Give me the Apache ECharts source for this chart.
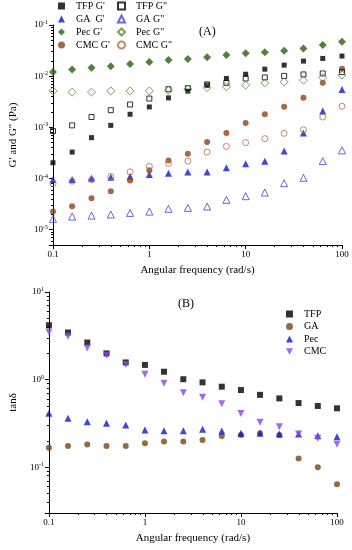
<!DOCTYPE html>
<html><head><meta charset="utf-8">
<script src="https://cdn.jsdelivr.net/npm/echarts@6/dist/echarts.min.js"></script>
<style>html,body{margin:0;padding:0;background:#fff}#c{width:352px;height:550px}</style>
</head><body><div id="c"></div>
<script>
// Angular frequency (rad/s)
const freq = [0.1, 0.158, 0.251, 0.398, 0.631, 1, 1.58, 2.51, 3.98, 6.31, 10, 15.8, 25.1, 39.8, 63.1, 100];

// Panel A: G' and G'' (Pa)
const tfpG1 = [2.03e-4, 3.28e-4, 6.28e-4, 1.09e-3, 1.80e-3, 2.50e-3, 3.76e-3, 5.08e-3, 6.67e-3, 9.02e-3, 0.0109, 0.0137, 0.0164, 0.0197, 0.0222, 0.0247];
const tfpG2 = [8.45e-4, 1.09e-3, 1.59e-3, 2.16e-3, 2.79e-3, 3.65e-3, 5.56e-3, 5.82e-3, 6.9e-3, 7.40e-3, 9.0e-3, 9.44e-3, 0.0101, 0.0108, 0.0113, 0.0120];
const gaG1 = [9.55e-5, 9.55e-5, 1.01e-4, 1.06e-4, 1.11e-4, 1.20e-4, 1.27e-4, 1.33e-4, 1.33e-4, 1.62e-4, 1.94e-4, 2.18e-4, 3.43e-4, 7.73e-4, 2.09e-3, 5.48e-3];
const gaG2 = [1.62e-5, 1.80e-5, 1.88e-5, 1.97e-5, 2.12e-5, 2.25e-5, 2.55e-5, 2.66e-5, 2.82e-5, 3.82e-5, 4.50e-5, 5.31e-5, 8.09e-5, 1.03e-4, 2.18e-4, 3.54e-4];
const pecG1 = [0.0121, 0.0135, 0.01455, 0.0157, 0.0172, 0.019, 0.0206, 0.0216, 0.0233, 0.0258, 0.0279, 0.0292, 0.0313, 0.0349, 0.0406, 0.0471];
const pecG2 = [5.15e-3, 4.85e-3, 4.85e-3, 5.15e-3, 5.15e-3, 5.15e-3, 5.3e-3, 5.56e-3, 5.96e-3, 6.18e-3, 6.67e-3, 7.4e-3, 7.74e-3, 8.35e-3, 9.4e-3, 0.0105];
const cmcG1 = [2.25e-5, 2.86e-5, 4.11e-5, 5.64e-5, 9.14e-5, 1.44e-4, 2.25e-4, 3.05e-4, 5.15e-4, 7.73e-4, 1.21e-3, 1.80e-3, 2.52e-3, 3.79e-3, 7.46e-3, 0.0140];
const cmcG2 = [7.87e-5, 8.85e-5, 9.43e-5, 1.09e-4, 1.35e-4, 1.72e-4, 1.97e-4, 2.18e-4, 3.28e-4, 4.24e-4, 5.01e-4, 6.0e-4, 7.62e-4, 8.93e-4, 1.59e-3, 2.58e-3];

// Panel B: tan delta
const tfpTan = [4.18, 3.45, 2.65, 1.99, 1.57, 1.47, 1.23, 1.01, 0.93, 0.83, 0.76, 0.67, 0.61, 0.54, 0.50, 0.47];
const gaTan  = [0.167, 0.175, 0.181, 0.175, 0.175, 0.188, 0.196, 0.196, 0.205, 0.227, 0.233, 0.244, 0.233, 0.126, 0.100, 0.064];
const pecTan = [0.412, 0.361, 0.331, 0.317, 0.303, 0.266, 0.261, 0.261, 0.271, 0.259, 0.244, 0.244, 0.239, 0.239, 0.229, 0.223];
const cmcTan = [3.50, 3.13, 2.30, 1.90, 1.49, 1.15, 0.91, 0.71, 0.63, 0.53, 0.41, 0.326, 0.29, 0.239, 0.214, 0.183];

const namesA1 = ["TFP G'", "GA  G'", "Pec G'", "CMC G'"];
const namesA2 = ['TFP G"', 'GA G"', 'Pec G"', 'CMC G"'];
const namesB = ['TFP', 'GA', 'Pec', 'CMC'];
const xTitle = 'Angular frequency (rad/s)';

const FONT = 'Liberation Serif';
const downTri = 'path://M0,0 L10,0 L5,9 Z';
const pts = arr => freq.map((f, i) => [f, arr[i]]);

function powLabel(v) {
  const l = Math.log10(v), r = Math.round(l);
  if (Math.abs(l - r) > 0.01) return '';
  return '10{s|' + r + '}';
}
function xLabel(v) {
  return v < 1 ? v.toFixed(1) : String(Math.round(v));
}

function filled(name, arr, sym, size, color, xi) {
  return {name, type: 'scatter', xAxisIndex: xi, yAxisIndex: xi, data: pts(arr),
    symbol: sym, symbolSize: size, itemStyle: {color}, z: 3};
}
function open(name, arr, sym, size, color, xi) {
  return {name, type: 'scatter', xAxisIndex: xi, yAxisIndex: xi, data: pts(arr),
    symbol: sym, symbolSize: size,
    itemStyle: {color: 'rgba(0,0,0,0)', borderColor: color, borderWidth: 1}, z: 4};
}

const axisCommon = {
  axisLine: {show: true, lineStyle: {color: '#000', width: 1}},
  axisTick: {show: true, length: 4, lineStyle: {color: '#000'}},
  minorTick: {show: true, splitNumber: 9, length: 2, lineStyle: {color: '#000'}},
  splitLine: {show: false},
  nameTextStyle: {fontFamily: FONT, fontSize: 11, color: '#000'}
};

const xAxisMake = (gi) => Object.assign({}, axisCommon, {
  type: 'log', logBase: 10, gridIndex: gi, min: 0.1, max: 100,
  name: xTitle, nameLocation: 'middle', nameGap: 20,
  axisLabel: {formatter: xLabel, fontFamily: FONT, fontSize: 9, color: '#000', margin: 5}
});
const yAxisMake = (gi, min, max, name, gap) => Object.assign({}, axisCommon, {
  type: 'log', logBase: 10, gridIndex: gi, min, max,
  name, nameLocation: 'middle', nameGap: gap, nameRotate: 90,
  axisLabel: {formatter: powLabel, fontFamily: FONT, fontSize: 9, color: '#000', margin: 5,
    showMinLabel: false,
    rich: {s: {fontSize: 6, fontFamily: FONT, verticalAlign: 'top', padding: [0, 0, 5, 0], color: '#000'}}}
});

const legendText = {fontFamily: FONT, fontSize: 10, color: '#000', lineHeight: 10,
  rich: {g: {width: 6, fontSize: 10, lineHeight: 10}}};
const legendBase = {orient: 'vertical', padding: 0, itemWidth: 7, itemHeight: 7, itemGap: 3,
  formatter: n => '{g|}' + n, textStyle: legendText};

const option = {
  animation: false,
  backgroundColor: '#fff',
  grid: [
    {left: 47, right: 10, top: 25, height: 220},
    {left: 33, right: 15, top: 292, height: 221}
  ],
  xAxis: [xAxisMake(0), xAxisMake(1)],
  yAxis: [
    yAxisMake(0, 5e-6, 0.1, 'G\' and G" (Pa)', 34),
    yAxisMake(1, 0.03, 10, 'tan\u03b4', 22)
  ],
  legend: [
    Object.assign({data: namesA1, left: 58, top: 1}, legendBase),
    Object.assign({data: namesA2, left: 117, top: 1}, legendBase),
    Object.assign({data: namesB, left: 286, top: 309}, legendBase, {itemGap: 2.5})
  ],
  graphic: [
    {type: 'text', left: 199, top: 26, style: {text: '(A)', font: '12px "Liberation Serif"', fill: '#000'}},
    {type: 'text', left: 178, top: 298, style: {text: '(B)', font: '12px "Liberation Serif"', fill: '#000'}}
  ],
  series: [
    filled(namesA1[0], tfpG1, 'rect', 5, '#000', 0),
    open(namesA2[0], tfpG2, 'rect', 5, '#000', 0),
    filled(namesA1[1], gaG1, 'triangle', 7, '#1414d8', 0),
    open(namesA2[1], gaG2, 'triangle', 7, '#4a3fd0', 0),
    filled(namesA1[2], pecG1, 'diamond', 8, '#2a600a', 0),
    open(namesA2[2], pecG2, 'diamond', 8, '#4f8f2f', 0),
    filled(namesA1[3], cmcG1, 'circle', 6, '#94401a', 0),
    open(namesA2[3], cmcG2, 'circle', 6, '#b46a45', 0),
    filled(namesB[0], tfpTan, 'rect', 6, '#000', 1),
    filled(namesB[1], gaTan, 'circle', 6, '#7a4514', 1),
    filled(namesB[2], pecTan, 'triangle', 7, '#1414d8', 1),
    filled(namesB[3], cmcTan, downTri, 7, '#8a44ec', 1)
  ]
};

const chart = echarts.init(document.getElementById('c'), null, {renderer: 'canvas'});
chart.setOption(option);
</script>
</body></html>
